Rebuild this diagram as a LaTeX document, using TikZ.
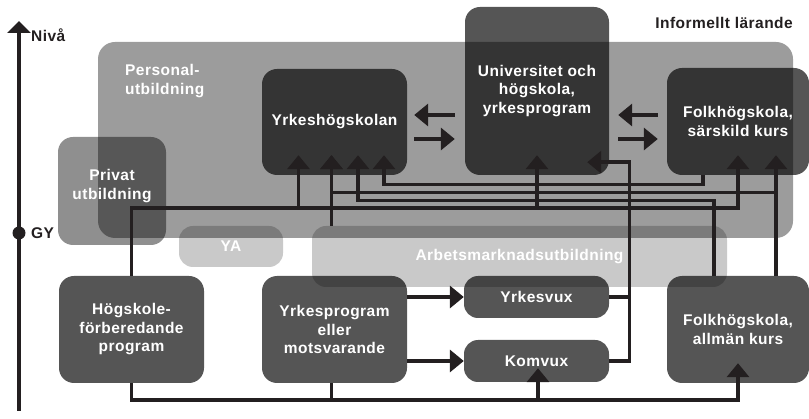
\documentclass[tikz,border=0pt]{standalone}
\usepackage{fontspec}
\setmainfont{Liberation Sans}[LetterSpace=3]
\usepackage{tikz}
\usetikzlibrary{arrows.meta,positioning,calc}
\definecolor{ink}{HTML}{231F20}
\tikzset{
  zone/.style={rectangle, rounded corners=15pt, fill=black, fill opacity=0.44, text opacity=1, inner sep=0pt},
  pale/.style={zone, rounded corners=14pt, fill opacity=0.21, text=white, font=\fontsize{15.5}{18}\selectfont\bfseries},
  blk/.style={zone, fill opacity=0.665, text=white, align=center, font=\fontsize{15.5}{18.5}\selectfont\bfseries},
  tag/.style={inner sep=0pt, font=\fontsize{15.5}{19}\selectfont\bfseries},
  lnk/.style={draw=ink, line width=3.4pt, -{Triangle[width=22pt,length=14pt]}}
}

\begin{document}
\begin{tikzpicture}[x=1pt, y=-1pt]
\useasboundingbox (0,0) rectangle (809,419);
% regions
\node[zone, fill opacity=0.39, rounded corners=17pt, minimum width=695pt, minimum height=196pt] (pers) at (445.5,140) {};
\node[zone, minimum width=108pt, minimum height=108pt] (priv) at (112,191) {};
\node[pale, minimum width=104pt, minimum height=41pt] (ya) at (231,246.5) {YA};
\node[pale, minimum width=415pt, minimum height=61pt] (arb) at (519.5,256.5) {Arbetsmarknadsutbildning};
\node[tag, text=white, align=left, anchor=north west] (perslbl) at (125,64) {Personal-\\utbildning};
\node[tag, text=white, align=center] (privlbl) at (112,186.5) {Privat\\utbildning};
\node[tag, text=ink, anchor=east] (inf) at (793,23) {Informellt lärande};
% schools
\node[blk, minimum width=145pt, minimum height=106pt] (yh) at (334.5,122) {Yrkeshögskolan};
\node[blk, minimum width=144pt, minimum height=168pt] (uni) at (537,91) {Universitet och\\högskola,\\yrkesprogram};
\node[blk, minimum width=142pt, minimum height=107pt] (fsk) at (738,121.5) {Folkhögskola,\\särskild kurs};
\node[blk, minimum width=145pt, minimum height=107pt] (hfp) at (131.5,329.5) {Högskole-\\förberedande\\program};
\node[blk, minimum width=145pt, minimum height=107pt] (ypr) at (334.5,329.5) {Yrkesprogram\\eller\\motsvarande};
\node[blk, rounded corners=14pt, minimum width=145pt, minimum height=42pt] (yvx) at (536.5,297) {Yrkesvux};
\node[blk, rounded corners=14pt, minimum width=145pt, minimum height=42pt] (kvx) at (536.5,361) {Komvux};
\node[blk, minimum width=142pt, minimum height=107pt] (fak) at (738,329.5) {Folkhögskola,\\allmän kurs};
% level axis
\coordinate (ax0) at (19,411);
\coordinate (ax1) at (19,21);
\draw[ink, line width=3.5pt, -{Triangle[width=23pt,length=12pt]}] (ax0) -- (ax1);
\node[circle, fill=ink, inner sep=0pt, minimum size=13pt] (gy) at (19,233) {};
\node[tag, text=ink, anchor=west] (gylbl) at (31,233) {GY};
\node[tag, text=ink, anchor=west] (niva) at (31,35) {Nivå};
% bus levels and arrow ends
\coordinate (busA) at (0,208);
\coordinate (busB) at (0,200.5);
\coordinate (busC) at (0,192.5);
\coordinate (busD) at (0,184.5);
\coordinate (busE) at (0,400);
\coordinate (yhA) at ($(yh.south)+(-36,-20)$);
\coordinate (yhB) at ($(yh.south)+(-3,-20)$);
\coordinate (yhC) at ($(yh.south)+(23.5,-20)$);
\coordinate (yhD) at ($(yh.south)+(49.5,-20)$);
\coordinate (uniA) at ($(uni.south)+(0,-20)$);
\coordinate (uniB) at ($(uni.south east)+(-22,-13)$);
\coordinate (riser) at ($(uniB)+(42,0)$);
\coordinate (fskA) at ($(fsk.south)+(0,-20)$);
\coordinate (fskB) at ($(fsk.south)+(38,-20)$);
\coordinate (fakA) at ($(fak.south)+(0,-20)$);
\coordinate (kvxA) at ($(kvx.south)+(1.5,-14)$);
\coordinate (yprS) at ($(ypr.south)+(-3,0)$);
% connectors
\draw[lnk] (hfp.north) |- (fskA |- busA) -- (fskA);
\draw[lnk] (yhA |- busA) -- (yhA);
\draw[lnk] (uniA |- busA) -- (uniA);
\draw[lnk] ($(fsk.south)+(-35,0)$) |- (yhD |- busD) -- (yhD);
\draw[lnk] ($(fak.north)+(-24,0)$) |- (yhC |- busB) -- (yhC);
\draw[lnk] ($(fak.north)+(38,0)$) -- (fskB);
\draw[lnk] (fskB |- busC) -| (yhB);
\draw[lnk] (yhB |- arb.north) -- (yhB);
\draw[lnk] (kvx.east) -| (riser) -- (uniB);
\draw[lnk, -] (yvx.east) -- (yvx.east -| riser);
\draw[lnk] (hfp.south) |- (fakA |- busE) -- (fakA);
\draw[lnk] (kvxA |- busE) -- (kvxA);
\draw[lnk, -] (yprS) -- (yprS |- busE);
\draw[lnk] (ypr.east |- yvx.west) -- (yvx.west);
\draw[lnk] (ypr.east |- kvx.west) -- (kvx.west);
\draw[lnk] ($(uni.west |- yh.east)+(-10,-7)$) -- ($(yh.east)+(7,-7)$);
\draw[lnk] ($(yh.east)+(7,17)$) -- ($(uni.west |- yh.east)+(-10,17)$);
\draw[lnk] ($(fsk.west)+(-9,-6.5)$) -- ($(uni.east |- fsk.west)+(9,-6.5)$);
\draw[lnk] ($(uni.east |- fsk.west)+(9,17.5)$) -- ($(fsk.west)+(-9,17.5)$);
\end{tikzpicture}
\end{document}
